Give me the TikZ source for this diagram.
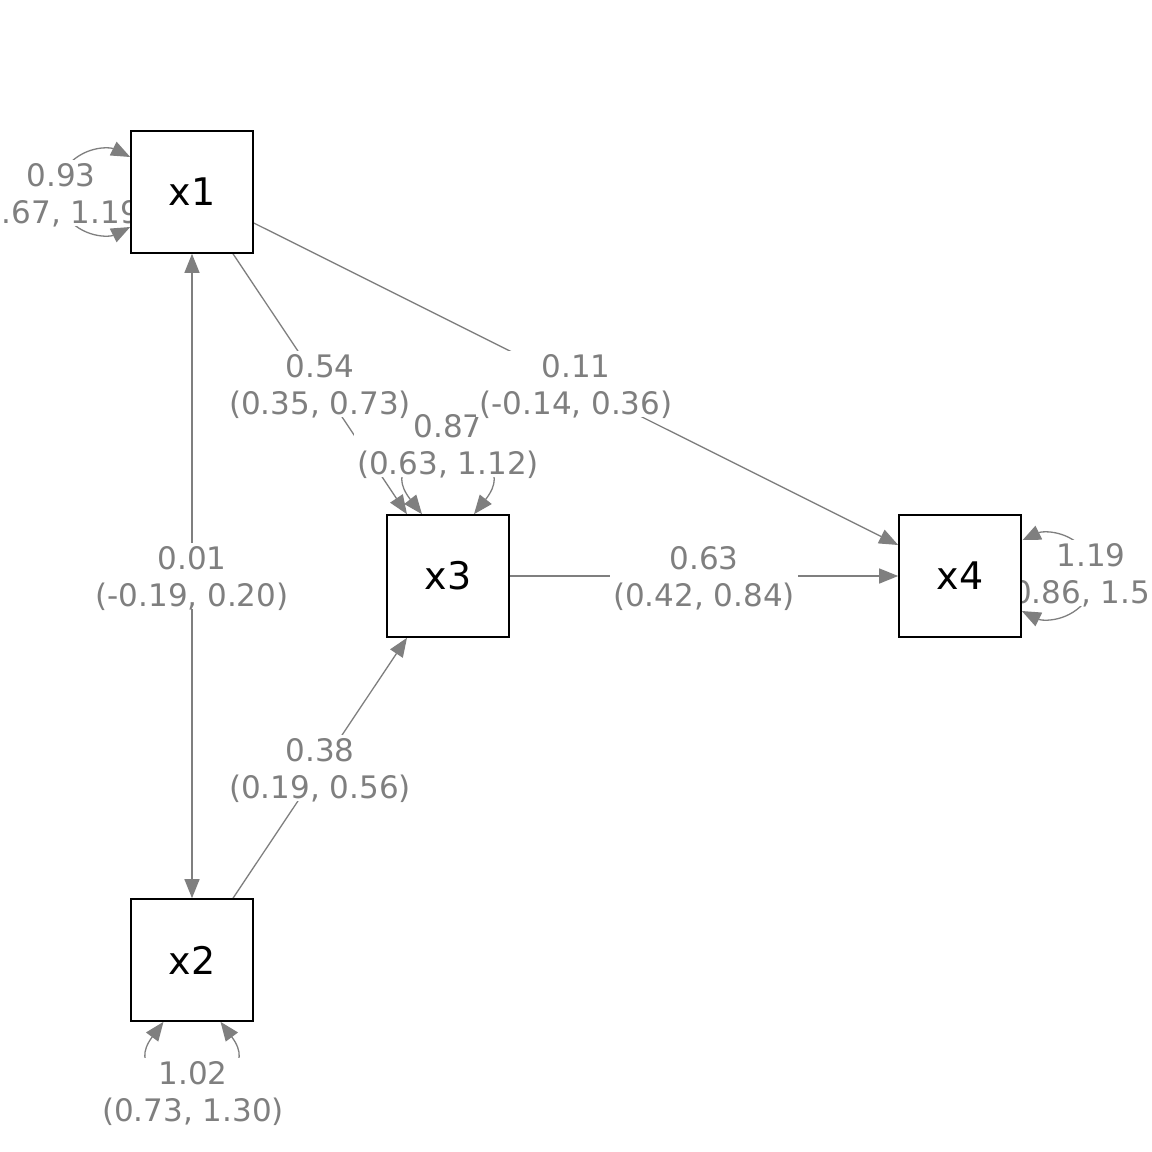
\documentclass[tikz,border=0pt]{standalone}
\usepackage{fontspec}
\setmainfont{DejaVu Sans}
\usetikzlibrary{arrows.meta}
\pgfdeclarelayer{edgelayer}
\pgfdeclarelayer{labellayer}
\pgfsetlayers{edgelayer,labellayer,main}
\definecolor{pathgray}{RGB}{127,127,127}
\newcommand{\cirange}[1]{\raisebox{0pt}[\height][0pt]{#1}}
\tikzset{
  varbox/.style={draw=black, line width=1.6pt, fill=white, minimum width=122pt,
    minimum height=122pt, inner sep=0pt, font=\fontsize{38}{44}\selectfont},
  edgearrow/.style={draw=pathgray, line width=1.3pt, -{Triangle[length=19pt,width=15pt]}},
  biarrow/.style={draw=pathgray, line width=1.3pt,
    {Triangle[length=19pt,width=15pt]}-{Triangle[length=19pt,width=15pt]}},
  elabel/.style={fill=white, text=pathgray, align=center,
    font=\fontsize{31}{37}\selectfont, inner xsep=3pt, inner ysep=3pt},
}
\begin{document}
\begin{tikzpicture}[x=1pt,y=-1pt]
\useasboundingbox (0,0) rectangle (1152,1152);
% variables
\node[varbox] (x1) at (192,192) {x1};
\node[varbox] (x2) at (192,960) {x2};
\node[varbox] (x3) at (448,576) {x3};
\node[varbox] (x4) at (960,576) {x4};
% connectors
\begin{pgfonlayer}{edgelayer}
\draw[edgearrow] ([xshift=41pt]x1.south) -- ([xshift=-41pt]x3.north);
\draw[edgearrow] ([yshift=-31pt]x1.east) -- ([yshift=31pt]x4.west);
\draw[biarrow] (x1.south) -- (x2.north);
\draw[edgearrow] ([xshift=41pt]x2.north) -- ([xshift=-41pt]x3.south);
\draw[edgearrow] (x3.east) -- (x4.west);
% variance loops
\draw[biarrow] ([yshift=35pt]x1.west) .. controls (110,147) and (82,145) .. (64,170)
  .. controls (56,180) and (56,204) .. (64,214)
  .. controls (82,239) and (110,237) .. ([yshift=-35pt]x1.west);
\draw[biarrow] ([yshift=35pt]x4.east) .. controls (1042,531) and (1070,529) .. (1088,554)
  .. controls (1096,564) and (1096,588) .. (1088,598)
  .. controls (1070,623) and (1042,621) .. ([yshift=-35pt]x4.east);
\draw[biarrow] ([xshift=-26pt]x3.north) .. controls (362,438) and (534,438) .. ([xshift=26pt]x3.north);
\draw[biarrow] ([xshift=-28.5pt]x2.south) .. controls (108,1096) and (276,1096) .. ([xshift=28.5pt]x2.south);
\end{pgfonlayer}
% labels
\begin{pgfonlayer}{labellayer}
\node[elabel] (v3) at (448,444) {0.87\\\cirange{(0.63, 1.12)}};
\node[elabel] (v1) at (61,193) {0.93\\\cirange{(0.67, 1.19)}};
\node[elabel] (v4) at (1091,573) {1.19\\\cirange{(0.86, 1.52)}};
\node[elabel] (v2) at (193,1091) {1.02\\\cirange{(0.73, 1.30)}};
\path ([xshift=41pt]x1.south) -- ([xshift=-41pt]x3.north)
  node[elabel, midway] (l13) {0.54\\\cirange{(0.35, 0.73)}};
\path ([yshift=-31pt]x1.east) -- ([yshift=31pt]x4.west)
  node[elabel, midway] (l14) {0.11\\\cirange{(-0.14, 0.36)}};
\path (x1.south) -- (x2.north)
  node[elabel, midway] (l12) {0.01\\\cirange{(-0.19, 0.20)}};
\path ([xshift=41pt]x2.north) -- ([xshift=-41pt]x3.south)
  node[elabel, midway] (l23) {0.38\\\cirange{(0.19, 0.56)}};
\path (x3.east) -- (x4.west)
  node[elabel, midway] (l34) {0.63\\\cirange{(0.42, 0.84)}};
\end{pgfonlayer}
\end{tikzpicture}
\end{document}
